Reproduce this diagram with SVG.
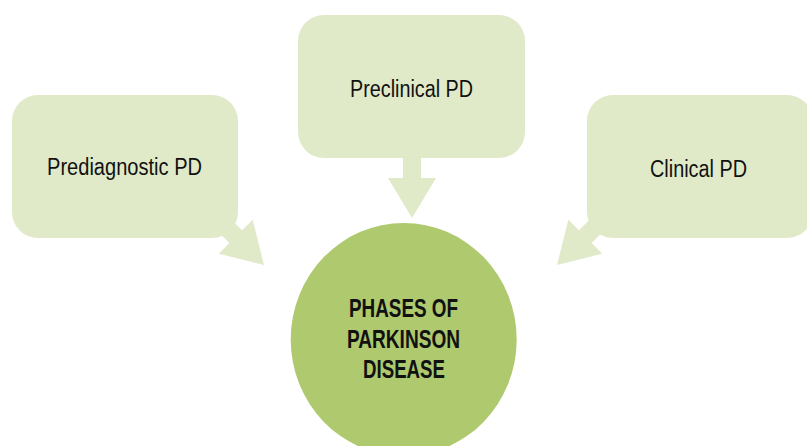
<svg xmlns="http://www.w3.org/2000/svg" width="807" height="446" viewBox="0 0 807 446">
  <defs>
    <style>
      .box { fill: #E0EAC9; }
      .arrow { fill: #E0EAC9; }
      .hub { fill: #AEC96E; }
      .lbl { font-family: "Liberation Sans", Arial, sans-serif; font-size: 23px; fill: #111; text-anchor: middle; }
      .hubt { font-family: "Liberation Sans", Arial, sans-serif; font-size: 26px; font-weight: bold; fill: #111; text-anchor: middle; }
    </style>
    <path id="arr" d="M -9 -70 L 9 -70 L 9 -40 L 24 -40 L 0 0 L -24 -40 L -9 -40 Z"/>
  </defs>
  <rect width="807" height="446" fill="#ffffff"/>
  <g id="connectors">
    <use href="#arr" class="arrow" transform="translate(264 265) rotate(-45)"/>
    <use href="#arr" class="arrow" transform="translate(412 218)"/>
    <use href="#arr" class="arrow" transform="translate(557 265) rotate(45)"/>
  </g>
  <g id="prediagnostic">
    <rect class="box" x="12" y="95" width="226" height="143" rx="26"/>
    <text class="lbl" x="124.5" y="175" textLength="155" lengthAdjust="spacingAndGlyphs">Prediagnostic PD</text>
  </g>
  <g id="preclinical">
    <rect class="box" x="298" y="15" width="227" height="143" rx="26"/>
    <text class="lbl" x="411.5" y="97" textLength="123" lengthAdjust="spacingAndGlyphs">Preclinical PD</text>
  </g>
  <g id="clinical">
    <rect class="box" x="587" y="95" width="226" height="143" rx="26"/>
    <text class="lbl" x="698.5" y="177" textLength="97" lengthAdjust="spacingAndGlyphs">Clinical PD</text>
  </g>
  <g id="phases">
    <ellipse class="hub" cx="403.7" cy="339.5" rx="113" ry="116.5"/>
    <text class="hubt" x="403.5" y="317" textLength="109" lengthAdjust="spacingAndGlyphs">PHASES OF</text>
    <text class="hubt" x="403.5" y="348" textLength="113" lengthAdjust="spacingAndGlyphs">PARKINSON</text>
    <text class="hubt" x="404" y="378" textLength="82" lengthAdjust="spacingAndGlyphs">DISEASE</text>
  </g>
</svg>
